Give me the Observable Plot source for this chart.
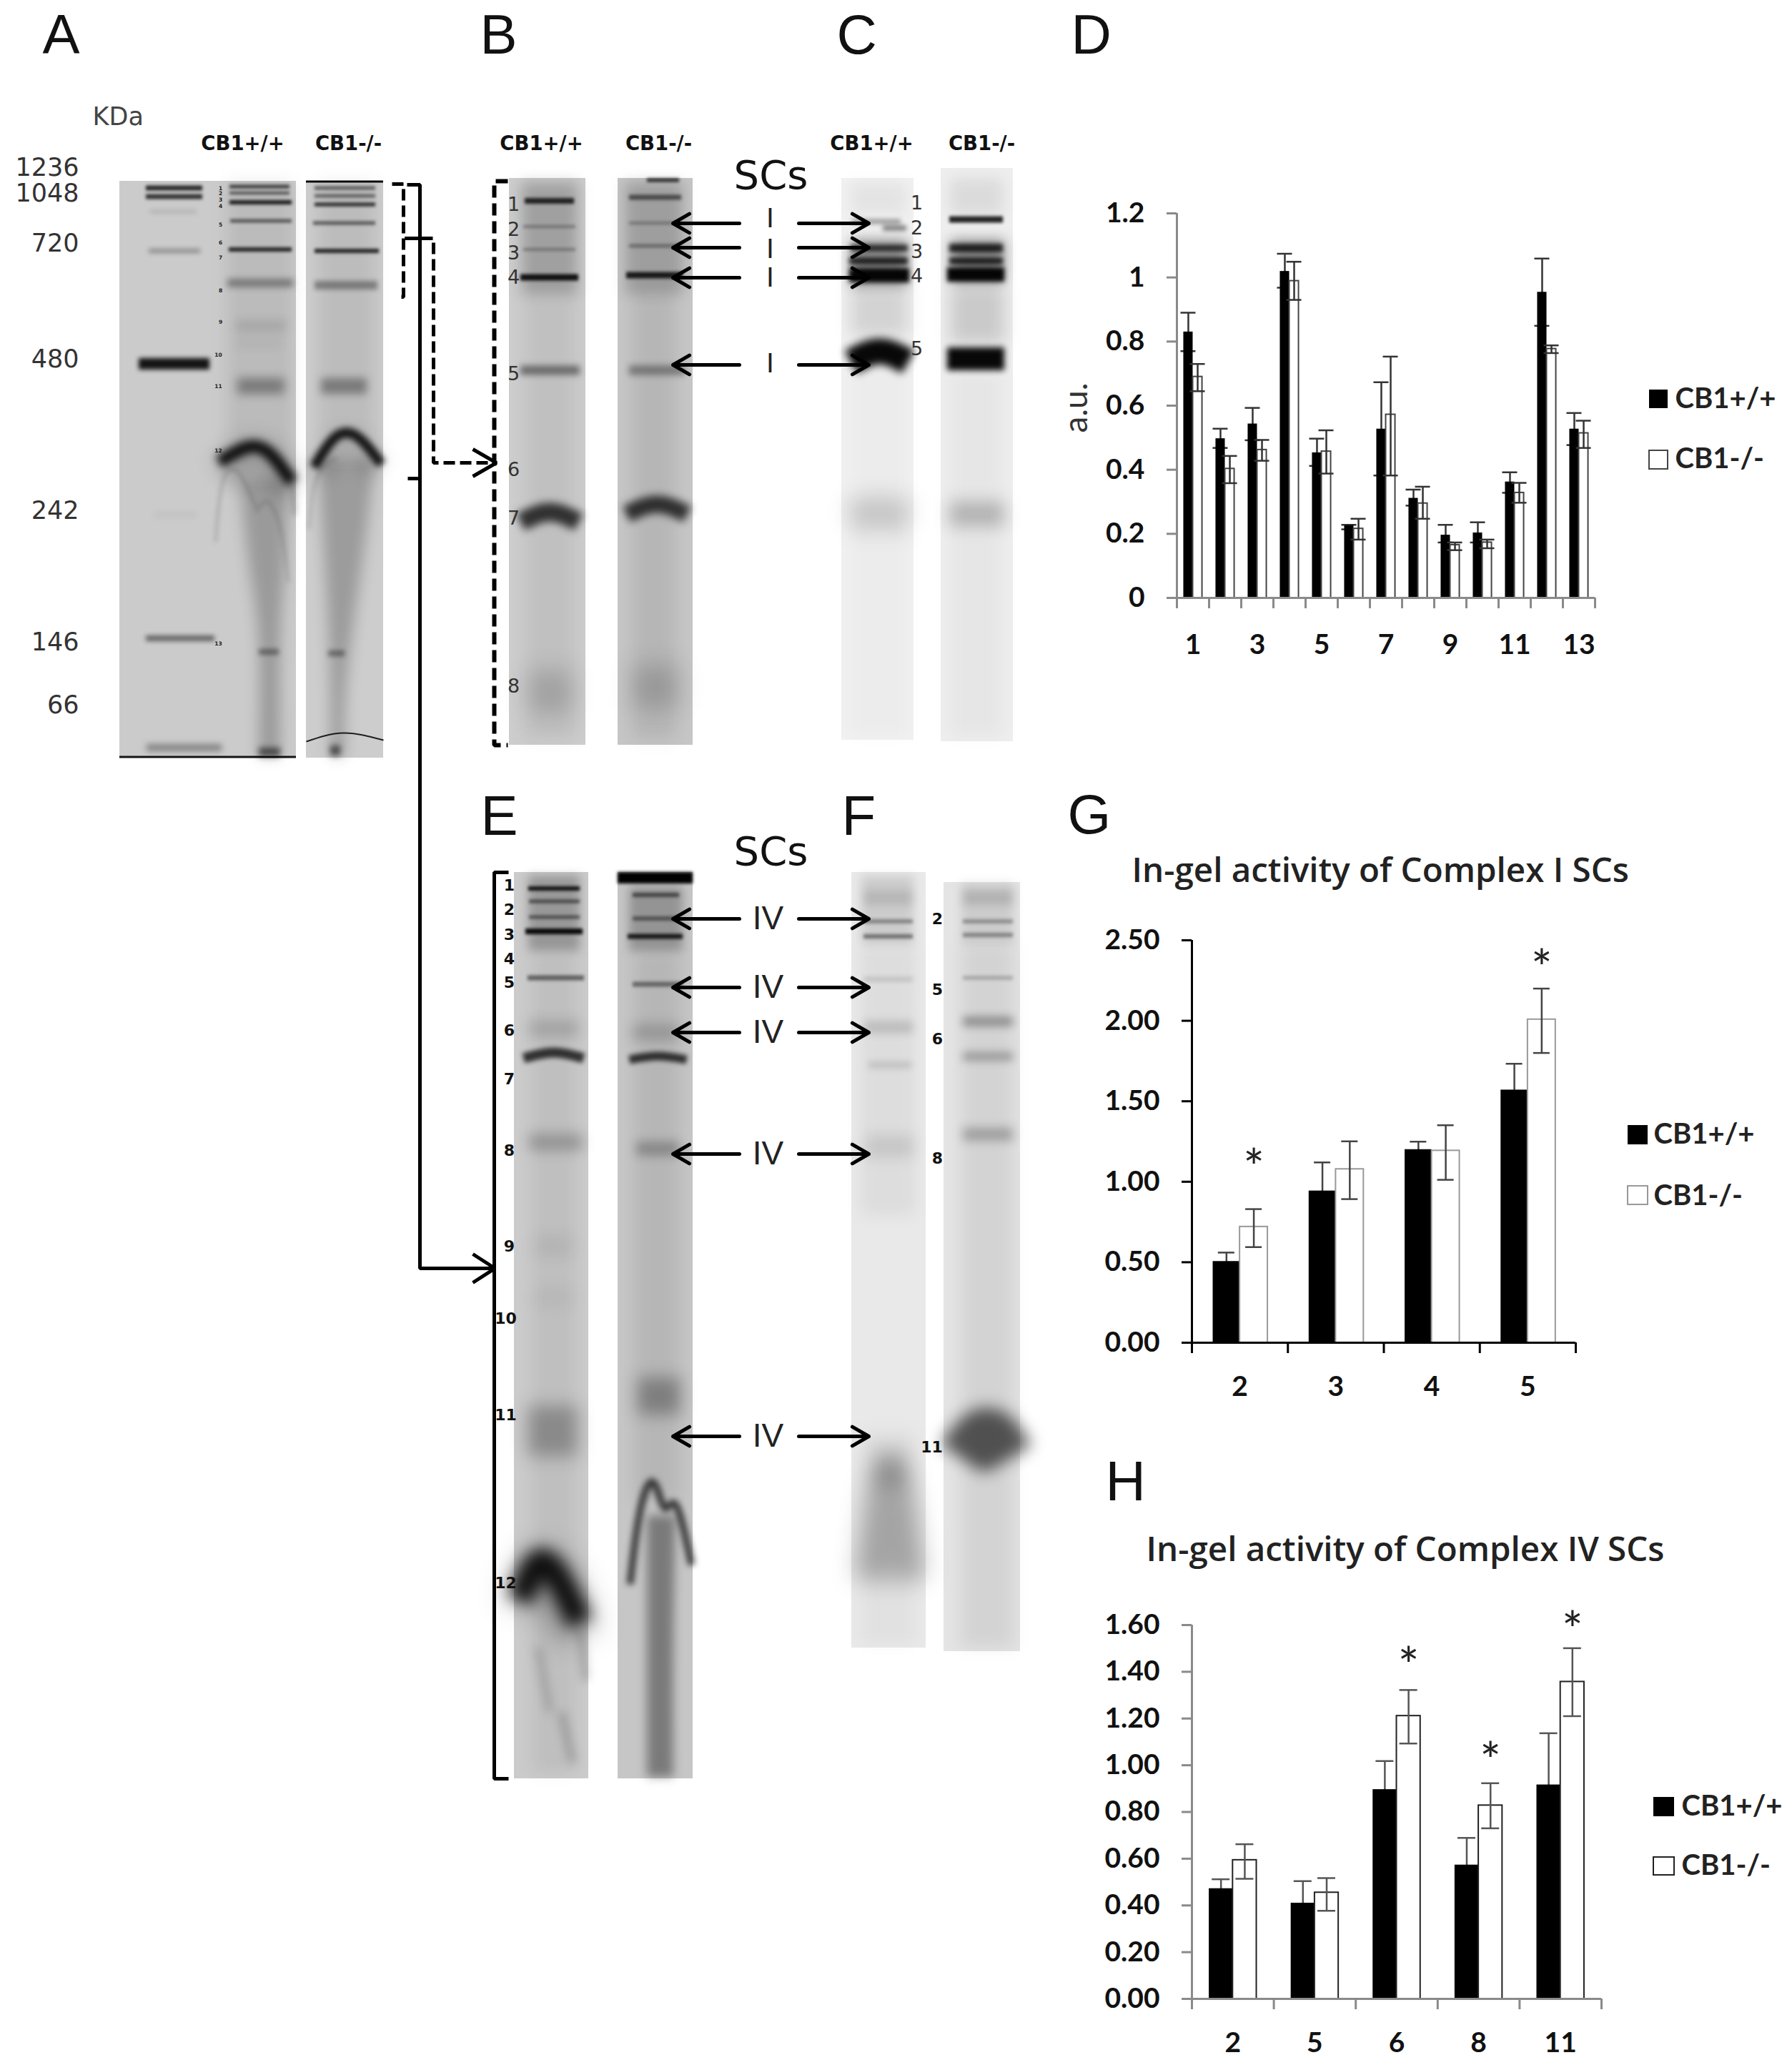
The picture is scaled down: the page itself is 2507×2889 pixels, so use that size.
<!DOCTYPE html>
<html><head><meta charset="utf-8">
<script src="https://cdn.jsdelivr.net/npm/d3@7"></script>
<script src="https://cdn.jsdelivr.net/npm/@observablehq/plot@0.6"></script>
<style>
html,body{margin:0;padding:0;background:#fff}
#page{position:relative;width:2507px;height:2889px;overflow:hidden}
#page>svg{position:absolute;background:none}
</style></head><body><div id="page"></div>
<script>
// ---------- bar chart data ----------
const seriesNames = ["CB1+/+", "CB1-/-"];

const dCategories = ["1","2","3","4","5","6","7","8","9","10","11","12","13"];
const dWT      = [.83,.497,.543,1.019,.453,.226,.527,.311,.196,.203,.362,.954,.527];
const dWTHigh  = [.89,.528,.593,1.074,.497,.228,.673,.338,.228,.236,.392,1.059,.577];
const dWTLow   = [.77,.468,.492,.968,.412,.214,.382,.288,.173,.173,.328,.849,.477];
const dKO      = [.69,.403,.462,.989,.457,.216,.572,.295,.165,.173,.328,.777,.514];
const dKOHigh  = [.73,.443,.493,1.049,.523,.247,.753,.347,.173,.182,.359,.788,.553];
const dKOLow   = [.645,.358,.428,.93,.388,.182,.382,.247,.149,.155,.297,.764,.468];

const gCategories = ["2","3","4","5"];
const gWT      = [.505,.943,1.20,1.57];
const gWTHigh  = [.56,1.12,1.249,1.733];
const gWTLow   = [.45,.766,1.15,1.41];
const gKO      = [.72,1.078,1.193,2.008];
const gKOHigh  = [.83,1.251,1.351,2.2];
const gKOLow   = [.594,.892,1.012,1.8];
const gStars   = [[0,1.15],[3,2.39]];

const hCategories = ["2","5","6","8","11"];
const hWT      = [.472,.41,.896,.573,.916];
const hWTHigh  = [.512,.504,1.018,.689,1.137];
const hWTLow   = [.432,.316,.774,.457,.695];
const hKO      = [.594,.455,1.211,.828,1.357];
const hKOHigh  = [.662,.517,1.322,.923,1.501];
const hKOLow   = [.514,.377,1.093,.73,1.21];
const hStars   = [[2,1.468],[3,1.06],[4,1.62]];

// ---------- gel data (lane, smear, band readings on the figure's grid) ----------
const gelLanes = [
 [167,414,253,1060,"#cbcbcb"],[428,536,253,1060,"#cdcdcd"],
 [712,819,249,1042,"#cdcdcd"],[864,969,249,1042,"#c6c6c6"],
 [1177,1278,249,1035,"#f1f1f1"],[1316,1417,235,1037,"#eeeeee"],
 [719,823,1220,2488,"#cbcbcb"],[864,969,1220,2488,"#c6c6c6"],
 [1191,1295,1220,2305,"#e9e9e9"],[1320,1427,1234,2310,"#e4e4e4"]
];
const gelSmears = [
 [318,410,255,680,.08,8],
 [445,525,255,620,.08,8],
 [730,808,255,410,.22,7],[735,805,400,1035,.06,8],[875,955,255,410,.2,7],[885,945,400,1035,.08,8],
 [1190,1268,255,300,.05,7],[1190,1270,335,400,.4,6],[1190,1270,400,470,.12,8],[1190,1270,500,1030,.02,8],
 [1330,1402,250,300,.08,7],[1330,1405,335,395,.4,6],[1330,1405,400,480,.15,8],[1330,1402,520,1030,.03,8],
 [739,811,1225,1330,.25,5],[745,805,1330,2480,.06,8],
 [880,955,1240,1330,.25,5],[888,950,1330,2100,.08,8],
 [1205,1278,1225,1320,.12,5],[1205,1280,1320,1700,.05,8],[1205,1280,2000,2300,.03,8],
 [1345,1418,1235,1320,.1,5],[1345,1418,1320,2305,.07,8]
];
// tail smears below the main band: rows of [y, left, right]
const gelTails = [
 [[[670,335,405],[800,350,398],[900,362,392],[1058,362,392]],.24,7],
 [[[640,445,525],[800,455,505],[950,462,485],[1058,462,482]],.24,7],
 [[[2120,905,945],[2300,905,942],[2486,905,942]],.38,5]
];
const gelBands = [
 // A marker
 [204,283,263,7,.8,1],[204,283,275,7,.75,1],[210,275,296,5,.12,2],[208,280,351,6,.3,2],
 [194,293,509,16,.9,2],[204,300,893,8,.5,2],[205,310,1046,10,.35,3],[215,275,720,6,.06,3],
 // A lanes
 [321,405,261,5,.7,1],[321,405,270,4,.6,1],[321,408,283,6,.85,1],[322,408,309,5,.55,1],[320,408,349,6,.8,1],
 [318,410,396,12,.35,3],[330,400,456,14,.12,5],[330,395,480,10,.06,5],[332,398,540,22,.35,5],[362,390,912,8,.4,2],
 [167,414,1059,3,.9,0],[362,392,1052,12,.6,3],
 [428,536,254,3,.95,0],[440,525,263,5,.55,1],[440,525,274,5,.5,1],[440,525,286,5,.8,1],[438,525,312,5,.55,1],
 [440,530,351,6,.8,1],[440,528,399,12,.35,2],[449,513,540,22,.35,4],[459,482,914,8,.4,2],[462,476,1050,14,.6,3],
 // B
 [734,803,281,8,.8,1],[732,805,317,4,.3,1],[732,805,349,4,.3,1],[728,809,388,9,.9,1],[728,811,518,13,.45,3],
 [728,809,716,26,.75,4,14],[740,800,968,60,.16,12],
 [880,953,276,7,.55,1],[880,953,312,4,.3,1],[880,953,344,5,.35,1],[876,955,385,9,.85,1],[880,958,518,14,.35,3],
 [876,961,705,24,.75,4,14],[885,950,961,60,.16,12],[905,950,252,5,.8,1],
 // C
 [1235,1268,319,7,.5,2],[1192,1260,310,6,.4,2],[1190,1270,347,9,.75,2],[1188,1270,365,10,.8,2],[1188,1272,385,20,.97,2],
 [1190,1270,491,36,.97,4,15],[1190,1270,716,45,.16,11,8],
 [1328,1403,307,9,.85,1],[1328,1403,347,12,.8,2],[1328,1403,365,10,.8,2],[1325,1405,384,20,.97,2],
 [1325,1405,502,32,.97,3],[1328,1405,719,35,.22,8],
 // E
 [739,811,1243,6,.9,1],[740,811,1261,5,.55,1],[740,811,1283,5,.5,1],[735,815,1303,8,.95,1],[738,817,1368,7,.5,1],
 [740,810,1439,24,.14,6],[732,816,1472,14,.75,2,8],[740,815,1598,24,.22,6],[750,800,1743,24,.07,8],[750,800,1815,20,.05,8],[738,808,2002,70,.28,9],
 [864,969,1228,16,1,1],[885,950,1252,6,.55,1],[885,950,1285,6,.45,1],[878,955,1310,7,.85,1],[885,955,1377,7,.45,1],
 [885,950,1444,22,.18,6],[880,960,1477,12,.75,2,5],[890,950,1607,20,.25,5],[892,952,1953,52,.3,8],
 // F
 [1208,1277,1256,20,.1,4],[1208,1277,1289,6,.35,1],[1208,1277,1310,6,.45,1],[1208,1277,1370,6,.14,2],[1208,1277,1437,18,.14,4],[1215,1275,1490,10,.12,3],[1210,1278,1604,30,.1,7],
 [1222,1268,2052,50,.2,10],
 [1347,1417,1256,20,.12,4],[1347,1417,1289,6,.3,1],[1347,1417,1308,6,.35,1],[1347,1417,1368,6,.2,1],[1347,1417,1429,14,.32,4],[1347,1417,1478,12,.28,4],[1347,1417,1587,18,.25,5]
];
const gelArcs = [
 [[[312,660],[347,635],[378,645],[404,684]],42,.2,10],
 [[[306,646],[347,625],[378,635],[408,674]],18,.9,4],
 [[[301,758],[311,674],[332,660],[357,709]],3,.2,2],
 [[[357,716],[375,702],[393,744],[403,814]],3,.18,2],
 [[[408,674],[412,720]],5,.25,3],
 [[[445,660],[472,625],[500,625],[526,656]],34,.15,9],
 [[[439,653],[469,611],[500,611],[533,649]],14,.88,3],
 [[[432,740],[442,670],[470,640]],3,.18,2],
 [[[428,1037],[480,1025],[536,1035]],2,.85,0],
 [[[735,2250],[755,2200],[785,2230],[806,2290]],70,.22,14],
 [[[728,2238],[755,2185],[785,2216],[811,2270]],36,.9,8],
 [[[752,2305],[769,2395]],8,.2,5],[[[785,2395],[801,2466]],8,.25,5],[[[811,2279],[819,2350]],8,.25,5],
 [[[881,2216],[894,2118],[913,2073],[929,2109],[945,2105],[967,2189]],10,.7,3],
 [[[1218,2210],[1245,2068],[1272,2210]],46,.27,12],
 [[[1345,2040],[1380,2005],[1412,2040]],72,.62,8]
];

// ---------- labels ----------
const panelLetters = [["A",59,74],["B",671,74],["C",1170,74],["D",1498,74],["E",672,1167],["F",1177,1167],["G",1493,1165],["H",1546,2098]];
const markerLabels = [["1236",234],["1048",270],["720",340],["480",502],["242",714],["146",898],["66",986]];
const laneHeaders = [["CB1+/+",339],["CB1-/-",487],["CB1+/+",757],["CB1-/-",921],["CB1+/+",1219],["CB1-/-",1373]];
const tinyLabels = [["1",308,263],["2",308,270],["3",308,279],["4",308,288],["5",308,314],["6",308,339],["7",308,360],["8",308,406],["9",308,450],["10",305,496],["11",305,540],["12",305,630],["13",305,900]];
const bLabels = [["1",718,286],["2",718,321],["3",718,354],["4",718,388],["5",718,523],["6",718,657],["7",718,725],["8",718,960],
                 ["1",1282,284],["2",1282,319],["3",1282,352],["4",1282,386],["5",1282,488]];
const eLabels = [["1",712,1238],["2",712,1272],["3",712,1307],["4",712,1341],["5",712,1374],["6",712,1441],["7",712,1509],["8",712,1609],["9",712,1743],["10",707,1844],["11",707,1979],["12",707,2214],
                 ["2",1311,1285],["5",1311,1384],["6",1311,1453],["8",1311,1620],["11",1303,2024]];
const complexILabels = [["I",1077,305],["I",1077,348],["I",1077,388],["I",1077,508]];
const complexIVLabels = [["IV",1074,1285],["IV",1074,1381],["IV",1074,1444],["IV",1074,1614],["IV",1074,2009]];
const scLabels = [["SCs",1078,263],["SCs",1078,1209]];
const arrowRows = [312,346,388,510,1285,1381,1444,1614,2009];
const titles = [["In-gel activity of Complex I SCs",1583,1233],["In-gel activity of Complex IV SCs",1603,2183]];
const legends = [[2307,2333,545,571,2343,558,642,630,656,"#444"],[2277,2305,1574,1601,2313,1587,1673,1659,1685,"#999"],[2313,2342,2514,2541,2352,2527,2610,2598,2623,"#222"]];

const dashedPaths = [
 [[[548,257],[564,257],[564,415],[556,415]],5,"16 7"],
 [[[566,333],[606,333],[606,647],[690,647]],5,"16 7"],
 [[[710,253],[691,253],[691,1042],[710,1042]],6,"17 8"]
];
const solidPaths = [
 [[[569,258],[587,258],[587,1774],[690,1774]],5],
 [[[566,333],[587,333]],5],[[[570,669],[587,669]],5],
 [[[711,1220],[691,1220],[691,2488],[711,2488]],5],
 [[[661,628],[694,647],[661,666]],5],
 [[[661,1754],[692,1774],[661,1794]],5]
];

// ---------- drawing ----------
const px = d => d, fx = d => d[0], fy = d => d[1];
const sans = "Liberation Sans", deja = "DejaVu Sans", lato = "Lato", open = "Open Sans";
const page = document.getElementById("page");
const soft = b => b ? `blur(${b * 1.3 + .6}px)` : undefined;

function txt(rows, o) {
  return Plot.text(rows, {text: d => d[0], x: d => d[1], y: d => d[2], fill: "#222", ...o});
}
function rectSoft(a, b, c, e, o, r) {
  return Plot.rect([[a, b, c, e]], {x1: d => d[0], x2: d => d[1], y1: d => d[2], y2: d => d[3], fill: "#000", fillOpacity: o, imageFilter: soft(r)});
}
function band([x1, x2, y, w, o, b, bow = 0]) {
  if (!bow) return rectSoft(x1, x2, y - w / 2, y + w / 2, o, b);
  return Plot.line([[x1, y + bow], [(x1 + x2) / 2, y], [x2, y + bow]], {x: fx, y: fy, stroke: "#000", strokeOpacity: o, strokeWidth: w, strokeLinecap: "butt", curve: "natural", imageFilter: soft(b)});
}
const base = Plot.plot({
  width: 2507, height: 2889, margin: 0,
  x: {domain: [0, 2507], range: [0, 2507], axis: null},
  y: {domain: [0, 2889], range: [0, 2889], axis: null},
  color: {type: "identity"},
  style: {background: "none"},
  marks: [
    Plot.rect(gelLanes, {x1: d => d[0], x2: d => d[1], y1: d => d[2], y2: d => d[3], fill: d => d[4]}),
    ...gelSmears.map(s => rectSoft(...s)),
    ...gelTails.map(([rows, o, b]) => Plot.areaX(rows, {y: d => d[0], x1: d => d[1], x2: d => d[2], fill: "#000", fillOpacity: o, curve: "natural", imageFilter: soft(b)})),
    ...gelBands.map(band),
    ...gelArcs.map(([pts, w, o, b]) => Plot.line(pts, {x: fx, y: fy, stroke: "#000", strokeOpacity: o, strokeWidth: w, strokeLinecap: "butt", curve: "natural", imageFilter: soft(b)})),
    ...dashedPaths.map(([pts, w, dash]) => Plot.line(pts, {x: fx, y: fy, stroke: "#000", strokeWidth: w, strokeDasharray: dash, strokeLinecap: "butt", strokeLinejoin: "miter"})),
    ...solidPaths.map(([pts, w]) => Plot.line(pts, {x: fx, y: fy, stroke: "#000", strokeWidth: w, strokeLinecap: "butt", strokeLinejoin: "miter"})),
    Plot.arrow(arrowRows, {x1: 1034, x2: 941, y: px, bend: 0, stroke: "#000", strokeWidth: 5, headLength: 8, headAngle: 60}),
    Plot.arrow(arrowRows, {x1: 1117, x2: 1215, y: px, bend: 0, stroke: "#000", strokeWidth: 5, headLength: 8, headAngle: 60}),
    txt(panelLetters, {fontFamily: sans, fontSize: 78, textAnchor: "start", lineAnchor: "bottom", fill: "#111"}),
    Plot.text(["KDa"], {x: 129, y: 163, text: px, fontFamily: deja, fontSize: 35, textAnchor: "start", fill: "#444"}),
    Plot.text(markerLabels, {x: 110, y: d => d[1], text: d => d[0], fontFamily: deja, fontSize: 35, textAnchor: "end", fill: "#333"}),
    Plot.text(laneHeaders, {x: d => d[1], y: 201, text: d => d[0], fontFamily: deja, fontWeight: 700, fontSize: 27.5, fill: "#111"}),
    txt(tinyLabels, {fontFamily: deja, fontWeight: 700, fontSize: 7.5, fill: "#222"}),
    txt(bLabels, {fontFamily: deja, fontSize: 27, fill: "#333"}),
    txt(eLabels, {fontFamily: deja, fontWeight: 700, fontSize: 22, fill: "#111"}),
    txt(complexILabels, {fontFamily: sans, fontSize: 39, fill: "#222"}),
    txt(complexIVLabels, {fontFamily: sans, fontSize: 46, fill: "#222"}),
    txt(scLabels, {fontFamily: deja, fontSize: 56, lineAnchor: "bottom", fill: "#111"}),
    txt(titles, {fontFamily: open, fontWeight: 600, fontSize: 47.5, textAnchor: "start", lineAnchor: "bottom", fill: "#222"}),
    Plot.rect(legends, {x1: d => d[0], x2: d => d[1], y1: d => d[2], y2: d => d[3], fill: "#000"}),
    Plot.rect(legends, {x1: d => d[0], x2: d => d[1], y1: d => d[7], y2: d => d[8], fill: "#fff", stroke: d => d[9], strokeWidth: 2}),
    Plot.text(legends, {x: d => d[4], y: d => d[5], text: () => seriesNames[0], fontFamily: lato, fontWeight: 700, fontSize: 40, textAnchor: "start", fill: "#222"}),
    Plot.text(legends, {x: d => d[4], y: d => d[6], text: () => seriesNames[1], fontFamily: lato, fontWeight: 700, fontSize: 40, textAnchor: "start", fill: "#222"}),
    Plot.text(["a.u."], {x: 1506, y: 570, text: px, rotate: -90, fontFamily: lato, fontSize: 46, fill: "#333"})
  ]
});
base.style.left = "0px"; base.style.top = "0px";
page.appendChild(base);

function chart({left, top, width, height, frame, yMax, yTicks, fmt, cats, labelled, wt, wtHi, wtLo, ko, koHi, koLo, stars, axis, barLo, barMid, barHi, cap, whiteStroke, yPad, xPad, errStroke}) {
  const rows = cats.map((c, i) => ({i, c, wt: wt[i], wtHi: wtHi[i], wtLo: wtLo[i], ko: ko[i], koHi: koHi[i], koLo: koLo[i]}));
  const unit = (frame[1] - frame[0]) / cats.length;
  const capHalf = cap / 2 / unit;
  const cx1 = d => d.i + (barLo + barMid) / 2, cx2 = d => d.i + (barMid + barHi) / 2;
  const caps = (keys, cx) => keys.map(k => Plot.ruleY(rows, {y: d => d[k], x1: d => cx(d) - capHalf, x2: d => cx(d) + capHalf, stroke: errStroke, strokeWidth: 2.5}));
  const p = Plot.plot({
    width, height,
    marginLeft: frame[0] - left, marginRight: left + width - frame[1],
    marginTop: frame[2] - top, marginBottom: top + height - frame[3],
    x: {domain: [0, cats.length], label: null, axis: null},
    y: {domain: [0, yMax], label: null, axis: null},
    style: {background: "none", fontFamily: "Lato", fontWeight: 700, color: "#111", overflow: "visible"},
    marks: [
      Plot.ruleX(rows, {x: cx1, y1: d => d.wtLo, y2: d => d.wtHi, stroke: errStroke, strokeWidth: 2.5}),
      ...caps(["wtHi", "wtLo"], cx1),
      Plot.rect(rows, {x1: d => d.i + barLo, x2: d => d.i + barMid, y1: 0, y2: d => d.wt, fill: "#000"}),
      Plot.rect(rows, {x1: d => d.i + barMid, x2: d => d.i + barHi, y1: 0, y2: d => d.ko, fill: "#fff", stroke: whiteStroke, strokeWidth: 2}),
      Plot.ruleX(rows, {x: cx2, y1: d => d.koLo, y2: d => d.koHi, stroke: errStroke, strokeWidth: 2.5}),
      ...caps(["koHi", "koLo"], cx2),
      Plot.ruleX([0], {y1: 0, y2: yMax, stroke: axis, strokeWidth: 3}),
      Plot.ruleY([0], {x1: 0, x2: cats.length, stroke: axis, strokeWidth: 3}),
      Plot.axisY({ticks: yTicks, tickSize: 14, text: null, stroke: axis, strokeWidth: 3, label: null}),
      Plot.axisY({ticks: yTicks, tickSize: 0, tickPadding: yPad, tickFormat: fmt, fontSize: 39, label: null}),
      Plot.axisX({ticks: d3.range(0, cats.length + 1), tickSize: 15, text: null, stroke: axis, strokeWidth: 3, label: null}),
      Plot.axisX({ticks: labelled.map(c => cats.indexOf(c) + .5), tickSize: 0, tickPadding: xPad, fontSize: 39, label: null, tickFormat: v => cats[v - .5]}),
      Plot.text(stars, {x: d => d[0] + (barMid + barHi) / 2, y: d => d[1], text: () => "*", fontSize: 70, fontWeight: 400, fontFamily: "Lato", dy: 16, fill: "#222"})
    ]
  });
  p.style.left = left + "px"; p.style.top = top + "px";
  page.appendChild(p);
}
chart({left: 1480, top: 200, width: 1027, height: 760, frame: [1646, 2231, 298, 836], yMax: 1.2, yTicks: [0,.2,.4,.6,.8,1,1.2], fmt: d => String(d),
  cats: dCategories, labelled: ["1","3","5","7","9","11","13"], wt: dWT, wtHi: dWTHigh, wtLo: dWTLow, ko: dKO, koHi: dKOHigh, koLo: dKOLow, stars: [],
  axis: "#8a8a8a", barLo: .21, barMid: .5, barHi: .79, cap: 21, whiteStroke: "#444", yPad: 45, xPad: 51, errStroke: "#333"});
chart({left: 1480, top: 1250, width: 1027, height: 730, frame: [1667, 2204, 1315, 1878], yMax: 2.5, yTicks: [0,.5,1,1.5,2,2.5], fmt: d => d.toFixed(2),
  cats: gCategories, labelled: gCategories, wt: gWT, wtHi: gWTHigh, wtLo: gWTLow, ko: gKO, koHi: gKOHigh, koLo: gKOLow, stars: gStars,
  axis: "#000", barLo: .22, barMid: .5, barHi: .79, cap: 23, whiteStroke: "#999", yPad: 45, xPad: 47, errStroke: "#444"});
chart({left: 1480, top: 2200, width: 1027, height: 689, frame: [1667, 2240, 2273, 2796], yMax: 1.6, yTicks: [0,.2,.4,.6,.8,1,1.2,1.4,1.6], fmt: d => d.toFixed(2),
  cats: hCategories, labelled: hCategories, wt: hWT, wtHi: hWTHigh, wtLo: hWTLow, ko: hKO, koHi: hKOHigh, koLo: hKOLow, stars: hStars,
  axis: "#8a8a8a", barLo: .21, barMid: .5, barHi: .79, cap: 25, whiteStroke: "#222", yPad: 45, xPad: 47, errStroke: "#555"});
</script></body></html>
